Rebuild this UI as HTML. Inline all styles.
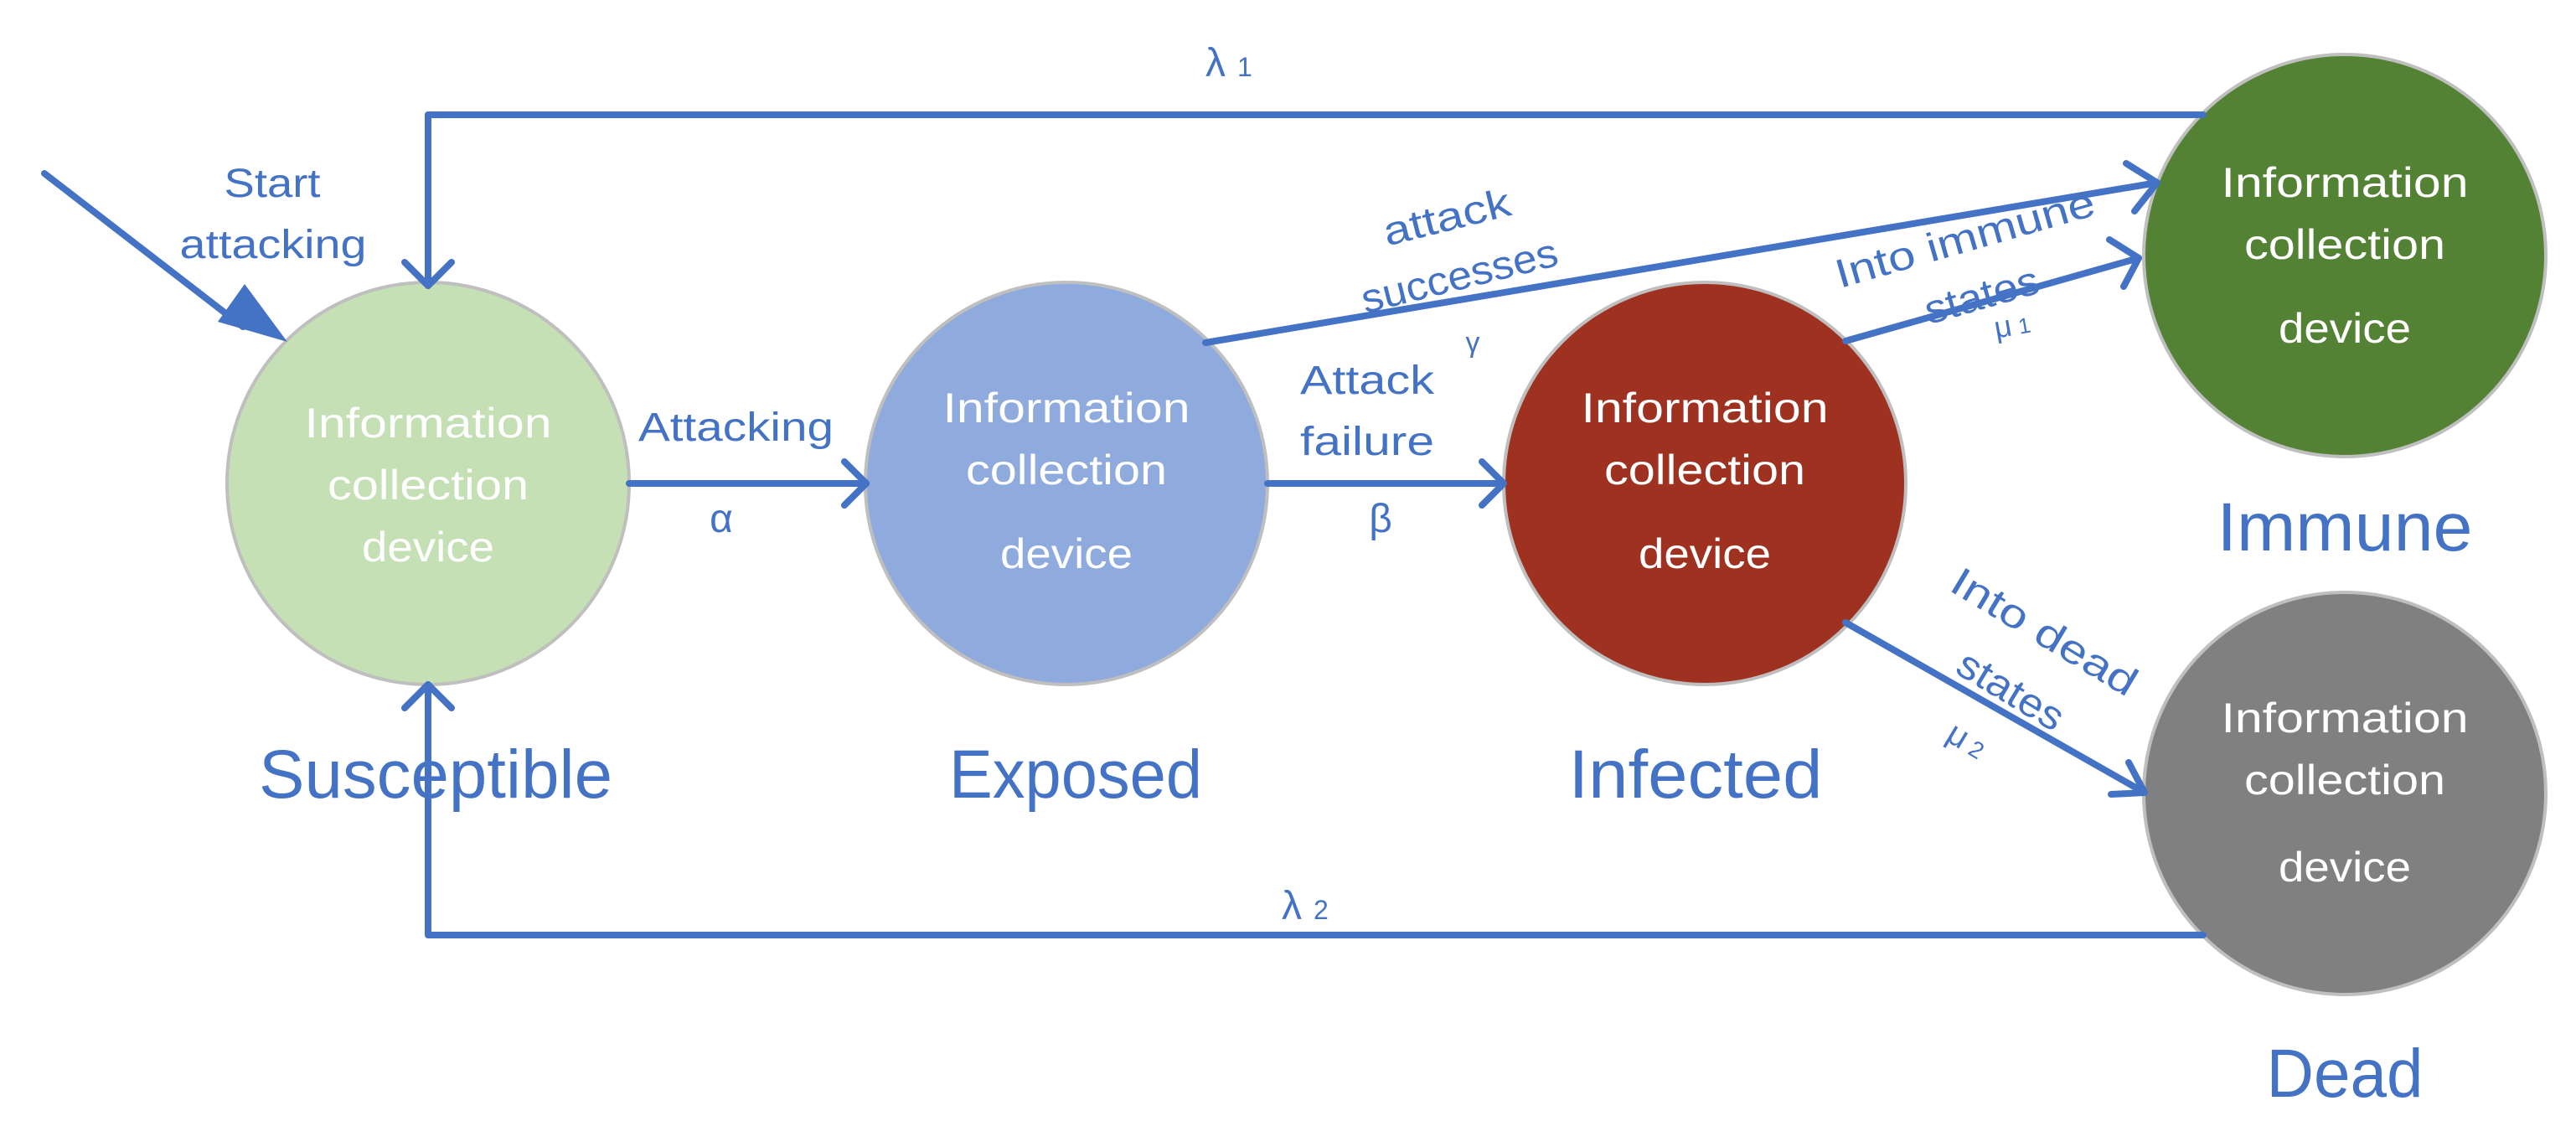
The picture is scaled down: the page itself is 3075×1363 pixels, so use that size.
<!DOCTYPE html>
<html><head><meta charset="utf-8"><style>html,body{margin:0;padding:0;background:#fff}svg{display:block}</style></head>
<body>
<svg width="3075" height="1363" viewBox="0 0 3075 1363" xmlns="http://www.w3.org/2000/svg" font-family="Liberation Sans, sans-serif">
<g stroke="#BFBFBF" stroke-width="4">
<circle cx="511" cy="577" r="240" fill="#C5E0B4"/>
<circle cx="1273" cy="577" r="240" fill="#8FAADC"/>
<circle cx="2035" cy="577" r="240" fill="#9E3120"/>
<circle cx="2799" cy="305" r="240" fill="#548235"/>
<circle cx="2799" cy="947" r="240" fill="#808080"/>
</g>
<g stroke="#4472C4" stroke-width="8" fill="none" stroke-linecap="round" stroke-linejoin="round">
<polyline points="2630,137 511,137 511,341"/>
<polyline points="483,313 511,341 539,313"/>
<polyline points="2630,1116 511,1116 511,817"/>
<polyline points="483,845 511,817 539,845"/>
<line x1="751" y1="577" x2="1034" y2="577"/>
<polyline points="1008,551 1034,577 1008,603"/>
<line x1="1513" y1="577" x2="1795" y2="577"/>
<polyline points="1769,551 1795,577 1769,603"/>
<line x1="1439" y1="409" x2="2575" y2="218"/>
<polyline points="2538,195 2575,218 2548,252"/>
<line x1="2203" y1="407" x2="2553" y2="308"/>
<polyline points="2518,286 2553,308 2535,342"/>
<line x1="2203" y1="743" x2="2560" y2="946"/>
<polyline points="2541,910 2560,946 2520,948"/>
<line x1="53" y1="207" x2="290" y2="390"/>
</g>
<polygon points="343,408 260,384 292,339" fill="#4472C4"/>
<g fill="#fff" font-size="50" text-anchor="middle">
<text x="511" y="522" textLength="295" lengthAdjust="spacingAndGlyphs">Information</text>
<text x="511" y="596" textLength="240" lengthAdjust="spacingAndGlyphs">collection</text>
<text x="511" y="670" textLength="158" lengthAdjust="spacingAndGlyphs">device</text>
<text x="1273" y="504" textLength="295" lengthAdjust="spacingAndGlyphs">Information</text>
<text x="1273" y="578" textLength="240" lengthAdjust="spacingAndGlyphs">collection</text>
<text x="1273" y="678" textLength="158" lengthAdjust="spacingAndGlyphs">device</text>
<text x="2035" y="504" textLength="295" lengthAdjust="spacingAndGlyphs">Information</text>
<text x="2035" y="578" textLength="240" lengthAdjust="spacingAndGlyphs">collection</text>
<text x="2035" y="678" textLength="158" lengthAdjust="spacingAndGlyphs">device</text>
<text x="2799" y="235" textLength="295" lengthAdjust="spacingAndGlyphs">Information</text>
<text x="2799" y="309" textLength="240" lengthAdjust="spacingAndGlyphs">collection</text>
<text x="2799" y="409" textLength="158" lengthAdjust="spacingAndGlyphs">device</text>
<text x="2799" y="874" textLength="295" lengthAdjust="spacingAndGlyphs">Information</text>
<text x="2799" y="948" textLength="240" lengthAdjust="spacingAndGlyphs">collection</text>
<text x="2799" y="1052" textLength="158" lengthAdjust="spacingAndGlyphs">device</text>
</g>
<g fill="#4472C4" font-size="82" text-anchor="middle">
<text x="520" y="952" textLength="422" lengthAdjust="spacingAndGlyphs">Susceptible</text>
<text x="1284" y="952" textLength="302" lengthAdjust="spacingAndGlyphs">Exposed</text>
<text x="2024" y="952" textLength="303" lengthAdjust="spacingAndGlyphs">Infected</text>
<text x="2799" y="657" textLength="305" lengthAdjust="spacingAndGlyphs">Immune</text>
<text x="2799" y="1309" textLength="187" lengthAdjust="spacingAndGlyphs">Dead</text>
</g>
<g fill="#4472C4" font-size="48">
<text x="325" y="235" text-anchor="middle" textLength="115" lengthAdjust="spacingAndGlyphs">Start</text>
<text x="326" y="308" text-anchor="middle" textLength="223" lengthAdjust="spacingAndGlyphs">attacking</text>
<text x="762" y="526" textLength="233" lengthAdjust="spacingAndGlyphs">Attacking</text>
<text x="861" y="635" text-anchor="middle">α</text>
<text x="1439" y="91">λ<tspan font-size="32" dx="14">1</tspan></text>
<text x="1530" y="1097">λ<tspan font-size="32" dx="14">2</tspan></text>
<text x="1552" y="470" textLength="160" lengthAdjust="spacingAndGlyphs">Attack</text>
<text x="1552" y="543" textLength="160" lengthAdjust="spacingAndGlyphs">failure</text>
<text x="1648" y="635" text-anchor="middle">β</text>
<text x="1758" y="420" text-anchor="middle" font-size="34">γ</text>
<text x="0" y="0" text-anchor="middle" transform="translate(1731,275) rotate(-14)" textLength="155" lengthAdjust="spacingAndGlyphs">attack</text>
<text x="0" y="0" text-anchor="middle" transform="translate(1746,345) rotate(-14)" textLength="240" lengthAdjust="spacingAndGlyphs">successes</text>
<text x="0" y="0" text-anchor="middle" transform="translate(2350,300) rotate(-16)" textLength="320" lengthAdjust="spacingAndGlyphs">Into immune</text>
<text x="0" y="0" text-anchor="middle" transform="translate(2370,368) rotate(-16)" textLength="140" lengthAdjust="spacingAndGlyphs">states</text>
<text x="0" y="0" text-anchor="middle" font-size="36" transform="translate(2404,400) rotate(-10)">μ<tspan font-size="26" dx="8">1</tspan></text>
<text x="0" y="0" text-anchor="middle" transform="translate(2432,768) rotate(31)" textLength="250" lengthAdjust="spacingAndGlyphs">Into dead</text>
<text x="0" y="0" text-anchor="middle" transform="translate(2392,838) rotate(31)" textLength="140" lengthAdjust="spacingAndGlyphs">states</text>
<text x="0" y="0" text-anchor="middle" font-size="40" transform="translate(2341,895) rotate(31)">μ<tspan font-size="28" dx="8">2</tspan></text>
</g>
</svg>
</body></html>
